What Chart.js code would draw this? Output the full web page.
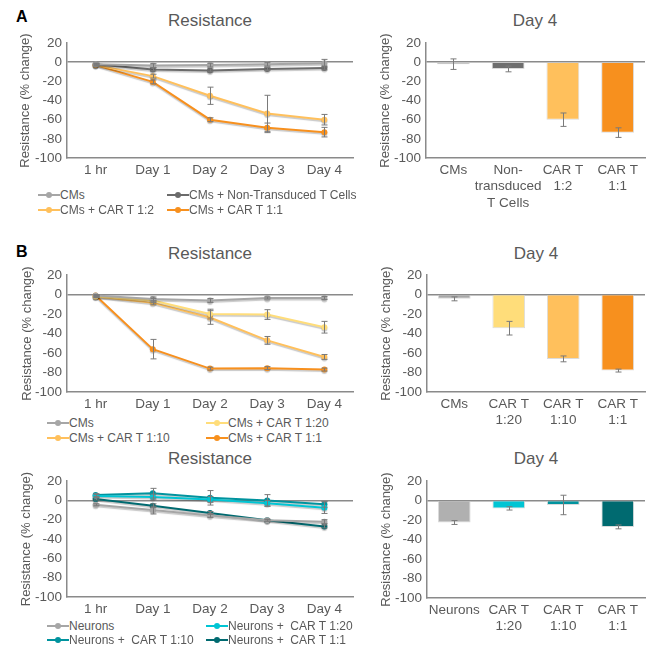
<!DOCTYPE html>
<html>
<head>
<meta charset="utf-8">
<script src="https://cdn.jsdelivr.net/npm/chart.js@4.4.1/dist/chart.umd.min.js"></script>
<style>
  body { margin: 0; background: #fff; font-family: "Liberation Sans", Arial, sans-serif; }
  #page { position: relative; width: 653px; height: 647px; overflow: hidden; }
  canvas { position: absolute; }
  .ttl { position: absolute; font-size: 17px; color: #595959; transform: translate(-50%, -50%); white-space: nowrap; }
  .letter { position: absolute; font-size: 16px; font-weight: bold; color: #000; }
  .leg { position: absolute; font-size: 12px; color: #595959; white-space: pre; line-height: 14px; transform: translateY(-50%); }
  .mk { display: inline-block; position: relative; width: 22px; height: 10px; vertical-align: middle; margin-top: -2px; }
  .mk::before { content: ""; position: absolute; left: 0; right: 0; top: 4px; height: 2px; background: var(--c); }
  .mk::after { content: ""; position: absolute; left: 8px; top: 2px; width: 6px; height: 6px; border-radius: 50%; background: var(--c); }
</style>
</head>
<body>
<div id="page">
  <div class="letter" style="left:16px;top:8px">A</div>
  <div class="letter" style="left:16px;top:243px">B</div>

  <div class="ttl" style="left:210px;top:21px">Resistance</div>
  <div class="ttl" style="left:535px;top:21px">Day 4</div>
  <div class="ttl" style="left:210px;top:254px">Resistance</div>
  <div class="ttl" style="left:536px;top:254px">Day 4</div>
  <div class="ttl" style="left:210px;top:459px">Resistance</div>
  <div class="ttl" style="left:536px;top:459px">Day 4</div>

  <canvas id="lineA"></canvas>
  <canvas id="barA"></canvas>
  <canvas id="lineB1"></canvas>
  <canvas id="barB1"></canvas>
  <canvas id="lineB2"></canvas>
  <canvas id="barB2"></canvas>
</div>
<script>
// time points and bar categories
const timePoints = ['1 hr', 'Day 1', 'Day 2', 'Day 3', 'Day 4'];
const yTicks = [20, 0, -20, -40, -60, -80, -100];

// panel A, lines
const cmsA = [-2, -3.5, -3, -2, -1];
const cmsAErr = [1, 2, 2, 2, 4];
const nonTA = [-2, -7.5, -8.5, -7, -6];
const nonTAErr = [1, 1.5, 1.5, 1.5, 2];
const car12A = [-3, -14.5, -35, -53.5, -60];
const car12AErr = [1, 2, 9, 19, 5.5];
const car11A = [-3, -20.5, -60, -68.5, -73];
const car11AErr = [1, 2, 2, 5, 5];

// panel A, day 4 bars
const barALabels = ['CMs', ['Non-', 'transduced', 'T Cells'], ['CAR T', '1:2'], ['CAR T', '1:1']];
const barAVals = [-2, -7, -60, -73.5];
const barAErr = [5.5, 3, 7, 5];

// panel B top, lines
const cmsB = [-1, -4.5, -6, -3.5, -3.5];
const cmsBErr = [1, 2, 2, 1, 1.5];
const car20B = [-2, -6, -20, -20.5, -33.5];
const car20BErr = [1, 2, 5, 5, 6];
const car10B = [-2, -8.5, -23.5, -47, -64];
const car10BErr = [1, 2, 7, 4, 2.5];
const car11B = [-1, -56, -76, -75.5, -77];
const car11BErr = [1, 10, 1.5, 1.5, 1.5];

// panel B top, day 4 bars
const barB1Labels = ['CMs', ['CAR T', '1:20'], ['CAR T', '1:10'], ['CAR T', '1:1']];
const barB1Vals = [-4.4, -34.5, -66, -78];
const barB1Err = [2, 7, 3, 1.5];

// panel B bottom, lines
const neurons = [-4.5, -10, -15.5, -20.5, -22];
const neuronsErr = [1, 4, 2, 1, 2];
const neu20 = [4.5, 3.5, 1, -3, -7.5];
const neu20Err = [1.5, 3, 3, 3, 6];
const neu10 = [5.5, 7.5, 2.7, 0, -4];
const neu10Err = [1.5, 5, 7.5, 6, 3];
const neu11 = [1.5, -5.5, -13, -20.5, -27];
const neu11Err = [1, 2, 1.5, 1, 1.5];

// panel B bottom, day 4 bars
const barB2Labels = ['Neurons', ['CAR T', '1:20'], ['CAR T', '1:10'], ['CAR T', '1:1']];
const barB2Vals = [-22.5, -8, -4.5, -27];
const barB2Err = [2, 1.7, 10, 2];

const txt = '#595959';
const axisCol = '#8a8a8a';
const errCol = '#7a7a7a';

const errorBars = {
  id: 'errorBars',
  beforeDatasetDraw(chart) {
    if (chart.config.type !== 'line') return;
    const ctx = chart.ctx;
    ctx.save();
    ctx.shadowColor = 'rgba(0,0,0,0.22)';
    ctx.shadowOffsetY = 1.5;
    ctx.shadowBlur = 1;
  },
  afterDatasetDraw(chart) {
    if (chart.config.type !== 'line') return;
    chart.ctx.restore();
  },
  afterDatasetsDraw(chart) {
    const ctx = chart.ctx;
    const ys = chart.scales.y;
    ctx.save();
    ctx.strokeStyle = errCol;
    ctx.lineWidth = 1;
    chart.data.datasets.forEach((ds, i) => {
      if (!ds.errs) return;
      const meta = chart.getDatasetMeta(i);
      meta.data.forEach((el, j) => {
        const v = ds.data[j], e = ds.errs[j];
        const x = Math.round(el.x) + 0.5;
        const y1 = ys.getPixelForValue(v + e);
        const y2 = ys.getPixelForValue(v - e);
        ctx.beginPath();
        ctx.moveTo(x, y1); ctx.lineTo(x, y2);
        ctx.moveTo(x - 3, y1); ctx.lineTo(x + 3, y1);
        ctx.moveTo(x - 3, y2); ctx.lineTo(x + 3, y2);
        ctx.stroke();
      });
    });
    ctx.restore();
  }
};

// geo: canvas box in page coords, plot area in page coords, y title centre x
function build(id, type, labels, datasets, geo) {
  const cv = document.getElementById(id);
  cv.width = geo.w; cv.height = geo.h;
  cv.style.left = geo.left + 'px'; cv.style.top = geo.top + 'px';
  const padL = geo.titleX - geo.left - 7.8 - 4;
  const yW = geo.area[0] - geo.left - padL;
  const xH = geo.top + geo.h - geo.area[3];
  new Chart(cv, {
    type: type,
    data: { labels: labels, datasets: datasets },
    options: {
      responsive: false,
      animation: false,
      layout: { padding: { left: padL, top: geo.area[1] - geo.top, right: geo.left + geo.w - geo.area[2], bottom: 0 } },
      plugins: { legend: { display: false }, tooltip: { enabled: false } },
      scales: {
        x: {
          offset: true,
          grid: { display: false, drawTicks: false },
          border: { display: true, color: axisCol, width: 1.5 },
          ticks: { color: txt, font: { size: 13.5, family: 'Liberation Sans', lineHeight: 1.22 }, padding: 4, maxRotation: 0, autoSkip: false },
          afterFit: s => { s.height = xH; }
        },
        y: {
          min: -100, max: 20,
          afterBuildTicks: s => { s.ticks = yTicks.map(v => ({ value: v })); },
          grid: { drawTicks: false, color: c => c.tick && c.tick.value === 0 ? axisCol : 'rgba(0,0,0,0)', lineWidth: 1.5 },
          border: { display: true, color: axisCol, width: 1.5 },
          ticks: { color: txt, font: { size: 13.5, family: 'Liberation Sans' }, padding: 5, autoSkip: false },
          title: { display: true, text: 'Resistance (% change)', color: txt, font: { size: 13, family: 'Liberation Sans' }, padding: { top: 4, bottom: 0 } },
          afterFit: s => { s.width = yW; }
        }
      }
    },
    plugins: [errorBars]
  });
}

function line(label, data, errs, color) {
  return { label, data, errs, borderColor: color, backgroundColor: color, borderWidth: 2,
    pointRadius: 3, pointBorderWidth: 0, pointBackgroundColor: color, tension: 0 };
}
function bars(data, errs, colors) {
  return { data, errs, backgroundColor: colors, borderColor: 'rgba(215,215,215,0.9)', borderWidth: 1,
    barPercentage: 0.6, categoryPercentage: 1 };
}

const cGrayL = '#a6a6a6', cGrayD = '#6b6b6b', cOrL = '#ffc05c', cOr = '#f7901e', cYel = '#ffdd7a';
const cCyan = '#00c5d4', cTeal = '#00939e', cTealD = '#006a70';

build('lineA', 'line', timePoints, [
  line('CMs', cmsA, cmsAErr, cGrayL),
  line('CMs + Non-Transduced T Cells', nonTA, nonTAErr, cGrayD),
  line('CMs + CAR T 1:2', car12A, car12AErr, cOrL),
  line('CMs + CAR T 1:1', car11A, car11AErr, cOr)
], { left: 0, top: 30, w: 360, h: 155, area: [67, 42, 353, 158], titleX: 25 });

build('barA', 'bar', barALabels, [
  bars(barAVals, barAErr, ['#a3a3a3', '#6e6e6e', cOrL, cOr])
], { left: 345, top: 30, w: 308, h: 185, area: [426, 42, 645, 158], titleX: 385 });

build('lineB1', 'line', timePoints, [
  line('CMs', cmsB, cmsBErr, cGrayL),
  line('CMs + CAR T 1:20', car20B, car20BErr, cYel),
  line('CMs + CAR T 1:10', car10B, car10BErr, cOrL),
  line('CMs + CAR T 1:1', car11B, car11BErr, cOr)
], { left: 0, top: 262, w: 360, h: 150, area: [67, 273, 353, 392], titleX: 27 });

build('barB1', 'bar', barB1Labels, [
  bars(barB1Vals, barB1Err, ['#a8a8a8', cYel, cOrL, cOr])
], { left: 345, top: 262, w: 308, h: 168, area: [427, 273, 645, 392], titleX: 386 });

build('lineB2', 'line', timePoints, [
  line('Neurons', neurons, neuronsErr, cGrayL),
  line('Neurons +  CAR T 1:20', neu20, neu20Err, cCyan),
  line('Neurons +  CAR T 1:10', neu10, neu10Err, cTeal),
  line('Neurons +  CAR T 1:1', neu11, neu11Err, cTealD)
], { left: 0, top: 468, w: 360, h: 150, area: [67, 480, 353, 597], titleX: 26 });

build('barB2', 'bar', barB2Labels, [
  bars(barB2Vals, barB2Err, ['#b0b0b0', cCyan, cTeal, cTealD])
], { left: 345, top: 468, w: 308, h: 179, area: [427, 479, 645, 598], titleX: 386 });

// legends, built from the line datasets
const legends = [
  { items: [['CMs', cGrayL], ['CMs + Non-Transduced T Cells', cGrayD], ['CMs + CAR T 1:2', cOrL], ['CMs + CAR T 1:1', cOr]],
    cols: [38, 167], rows: [195, 210] },
  { items: [['CMs', cGrayL], ['CMs + CAR T 1:20', cYel], ['CMs + CAR T 1:10', cOrL], ['CMs + CAR T 1:1', cOr]],
    cols: [47, 206], rows: [423, 438] },
  { items: [['Neurons', cGrayL], ['Neurons +  CAR T 1:20', cCyan], ['Neurons +  CAR T 1:10', cTeal], ['Neurons +  CAR T 1:1', cTealD]],
    cols: [47, 206], rows: [626, 640] }
];
const page = document.getElementById('page');
legends.forEach(lg => {
  lg.items.forEach((it, k) => {
    const d = document.createElement('div');
    d.className = 'leg';
    d.style.left = lg.cols[k % 2] + 'px';
    d.style.top = lg.rows[Math.floor(k / 2)] + 'px';
    const m = document.createElement('span');
    m.className = 'mk';
    m.style.setProperty('--c', it[1]);
    d.appendChild(m);
    d.appendChild(document.createTextNode(it[0]));
    page.appendChild(d);
  });
});
</script>
</body>
</html>
